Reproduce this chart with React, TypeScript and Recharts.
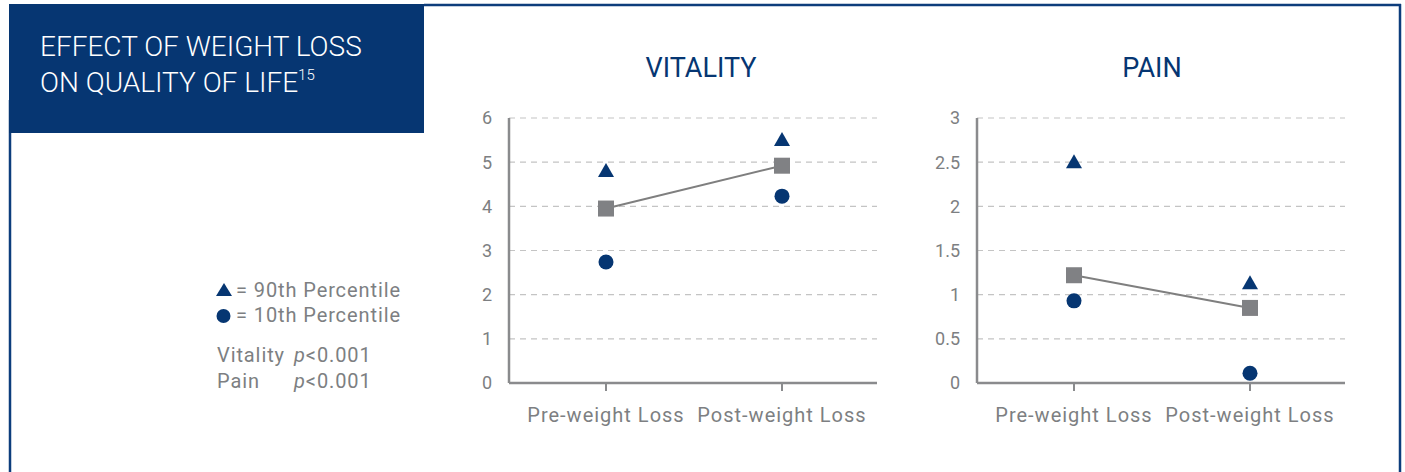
import React from 'react';
import { LineChart, Line, XAxis, YAxis, CartesianGrid } from 'recharts';

const categories = ['Pre-weight Loss', 'Post-weight Loss'];

const vitalityMean = [3.95, 4.92];
const vitalityP90 = [4.8, 5.5];
const vitalityP10 = [2.74, 4.23];

const painMean = [1.22, 0.85];
const painP90 = [2.5, 1.13];
const painP10 = [0.93, 0.11];

const vitalityTicks = [0, 1, 2, 3, 4, 5, 6];
const painTicks = [0, 0.5, 1, 1.5, 2, 2.5, 3];

const NAVY = '#063672';
const GRAY_TEXT = '#7d7f82';
const GRAY_MARK = '#808184';
const FONT = 'Roboto, "DejaVu Sans", sans-serif';

const buildRows = (mean: number[], p90: number[], p10: number[]) =>
  categories.map((c, i) => ({ cat: c, mean: mean[i], p90: p90[i], p10: p10[i] }));

const vitalityData = buildRows(vitalityMean, vitalityP90, vitalityP10);
const painData = buildRows(painMean, painP90, painP10);

const SquareDot = (props: any) => {
  const { cx, cy, index } = props;
  if (cx == null || cy == null) return <g key={`sq-${index}`} />;
  return <rect key={`sq-${index}`} x={cx - 8} y={cy - 8} width={16} height={16} fill={GRAY_MARK} />;
};
const TriDot = (props: any) => {
  const { cx, cy, index } = props;
  if (cx == null || cy == null) return <g key={`tr-${index}`} />;
  return <path key={`tr-${index}`} d={`M${cx},${cy - 8} L${cx + 8},${cy + 6} L${cx - 8},${cy + 6} Z`} fill={NAVY} />;
};
const CircDot = (props: any) => {
  const { cx, cy, index } = props;
  if (cx == null || cy == null) return <g key={`ci-${index}`} />;
  return <circle key={`ci-${index}`} cx={cx} cy={cy} r={7.5} fill={NAVY} />;
};

const Panel = ({ data, ticks, max }: { data: any[]; ticks: number[]; max: number }) => (
  <LineChart
    width={460}
    height={472}
    data={data}
    margin={{ top: 118, right: 23, bottom: 39, left: 29 }}
  >
    <CartesianGrid vertical={false} stroke="#c4c4c4" strokeDasharray="6 5" strokeWidth={1.2} />
    <XAxis
      dataKey="cat"
      type="category"
      scale="band"
      padding={{ left: 9, right: 7 }}
      height={50}
      axisLine={{ stroke: '#8a8b8d', strokeWidth: 2.5 }}
      tickLine={{ stroke: '#8a8b8d', strokeWidth: 2 }}
      tickSize={8}
      tickMargin={17}
      tick={{ fill: GRAY_TEXT, fontSize: 20, fontFamily: FONT, letterSpacing: 1 }}
      interval={0}
    />
    <YAxis
      type="number"
      domain={[0, max]}
      ticks={ticks}
      width={40}
      axisLine={{ stroke: '#8a8b8d', strokeWidth: 2.5 }}
      tickLine={false}
      tickSize={6}
      tickMargin={11}
      tick={{ fill: GRAY_TEXT, fontSize: 18, fontFamily: FONT }}
      interval={0}
    />
    <Line dataKey="mean" stroke="#7f7f7f" strokeWidth={2} dot={SquareDot} isAnimationActive={false} />
    <Line dataKey="p90" stroke="none" dot={TriDot} isAnimationActive={false} />
    <Line dataKey="p10" stroke="none" dot={CircDot} isAnimationActive={false} />
  </LineChart>
);

const legendText = { fill: GRAY_TEXT, fontSize: 20, fontFamily: FONT, letterSpacing: 0.9 } as const;

export default function App() {
  return (
    <div style={{ position: 'absolute', left: 0, top: 0, width: 1405, height: 472, overflow: 'hidden', background: '#fff' }}>
      <svg width={1405} height={472} style={{ position: 'absolute', left: 0, top: 0 }}>
        {/* frame */}
        <line x1={424} y1={5} x2={1401} y2={5} stroke="#0d3d7c" strokeWidth={2.5} />
        <line x1={1400} y1={4} x2={1400} y2={472} stroke="#0d3d7c" strokeWidth={2.5} />
        <line x1={10} y1={100} x2={10} y2={472} stroke="#0d3d7c" strokeWidth={2.5} />
        <rect x={9} y={4} width={415} height={129} fill={NAVY} />
        <text x={40} y={56} fill="#fff" fontSize={28} fontFamily={FONT} fontWeight={300}>
          EFFECT OF WEIGHT LOSS
        </text>
        <text x={40} y={92} fill="#fff" fontSize={28} fontFamily={FONT} fontWeight={300}>
          ON QUALITY OF LIFE
          <tspan fontSize={15} dy={-12}>15</tspan>
        </text>
        {/* panel titles */}
        <text x={701} y={77} textAnchor="middle" fill={NAVY} fontSize={27} fontFamily={FONT} fontWeight={400}>
          VITALITY
        </text>
        <text x={1152} y={77} textAnchor="middle" fill={NAVY} fontSize={27} fontFamily={FONT} fontWeight={400}>
          PAIN
        </text>
        {/* legend */}
        <path d="M224,283 L232,296 L216,296 Z" fill={NAVY} />
        <text x={236} y={297} {...legendText}>= 90th Percentile</text>
        <circle cx={223.5} cy={316} r={7} fill={NAVY} />
        <text x={236} y={322} {...legendText}>= 10th Percentile</text>
        <text x={217} y={362} {...legendText}>Vitality</text>
        <text x={294} y={362} {...legendText}>
          <tspan fontStyle="italic">p</tspan>&lt;0.001
        </text>
        <text x={217} y={388} {...legendText}>Pain</text>
        <text x={294} y={388} {...legendText}>
          <tspan fontStyle="italic">p</tspan>&lt;0.001
        </text>
      </svg>
      <div style={{ position: 'absolute', left: 440, top: 0 }}>
        <Panel data={vitalityData} ticks={vitalityTicks} max={6} />
      </div>
      <div style={{ position: 'absolute', left: 908, top: 0 }}>
        <Panel data={painData} ticks={painTicks} max={3} />
      </div>
    </div>
  );
}
